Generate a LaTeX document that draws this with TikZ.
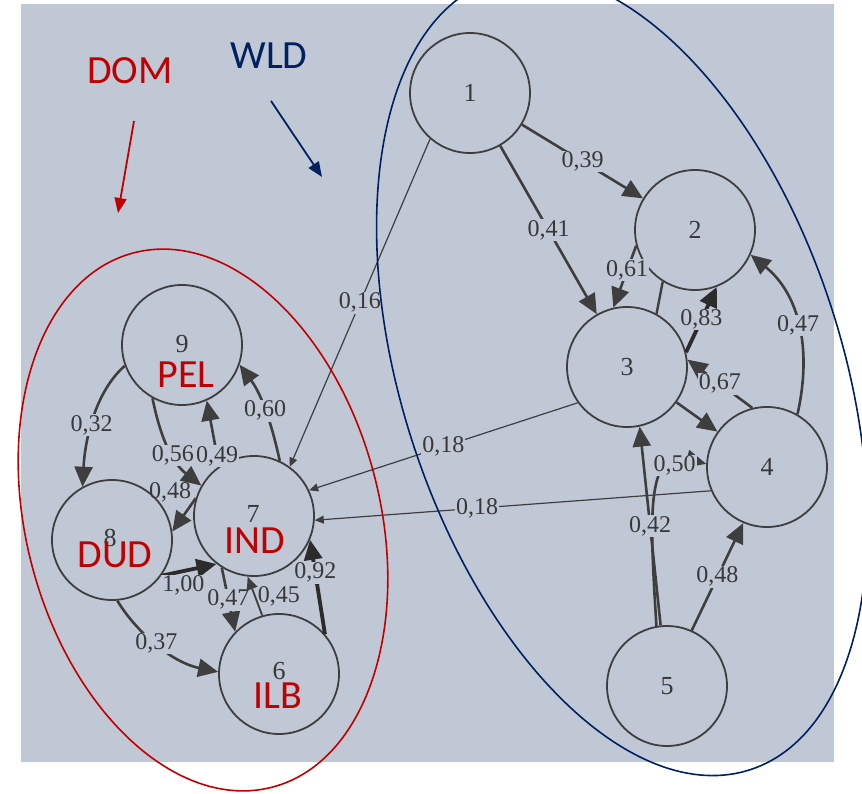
\documentclass[tikz,border=0pt]{standalone}
\usepackage{fontspec}
\setmainfont{Liberation Serif}
\newfontfamily\calib{Carlito}
\usetikzlibrary{arrows.meta}
\definecolor{bg}{RGB}{192,200,214}
\definecolor{ink}{RGB}{62,62,62}
\definecolor{redc}{RGB}{192,0,0}
\definecolor{navy}{RGB}{0,32,96}
\tikzset{
  vtx/.style={circle, draw=ink, line width=1.8pt, minimum size=120pt, inner sep=0pt,
    font=\fontsize{26}{28}\selectfont, text=ink!90!black},
  num/.style={inner sep=0pt, font=\fontsize{26}{28}\selectfont, text=ink!90!black},
  lbl/.style={fill=bg, inner sep=1pt, font=\fontsize{24}{26}\selectfont, text=ink!90!black},
  lblnf/.style={inner sep=1pt, font=\fontsize{24}{26}\selectfont, text=ink!90!black},
  tag/.style={inner sep=0pt, font=\calib\fontsize{40}{44}\selectfont},
  e/.style={draw=ink, line width=2.6pt, -{Triangle[length=20pt,width=18pt]}},
  emid/.style={draw=ink, line width=1.8pt, -{Triangle[length=13pt,width=11pt]}},
  ethin/.style={draw=ink, line width=1.2pt, -{Triangle[length=9pt,width=8pt]}},
  ethick/.style={draw=ink!70!black, line width=3.8pt, -{Triangle[length=20pt,width=18pt]}},
  plainedge/.style={draw=ink, line width=2.4pt},
  note/.style={line width=1.8pt, -{Triangle[length=15pt,width=12pt]}}
}
\begin{document}
\begin{tikzpicture}[x=1pt,y=-1pt]
\useasboundingbox (0,0) rectangle (862,794);
\clip (0,0) rectangle (862,794);
\fill[bg] (21,4) rectangle (834,762);

% nodes
\node[vtx] (n1) at (470,93) {1};
\node[vtx] (n2) at (695,230) {2};
\node[vtx] (n3) at (627,367) {3};
\node[vtx] (n4) at (767,467) {4};
\node[vtx] (n5) at (667,686) {5};
\node[vtx] (n6) at (279,674) {};
\node[vtx] (n7) at (254,516) {};
\node[vtx] (n8) at (112,540) {};
\node[vtx] (n9) at (182,345) {};
\node[num] (t9) at (182,344) {9};
\node[num] (t7) at (253,514) {7};
\node[num] (t8) at (110,538) {8};
\node[num] (t6) at (279,671) {6};

% edges, right cluster
\draw[e] (n1) -- node[lbl]{0,39} (n2);
\draw[e] (n1) -- node[lbl]{0,41} (n3);
\draw[ethin] (n1.229) -- node[lbl]{0,16} (n7.54);
\draw[e] (n2.195) .. controls (628,268) .. node[lbl]{0,61} (n3.103);
\draw[plainedge] (n3.61) -- (n2.238);
\draw[ethick] (n3.14) -- node[lbl]{0,83} (n2.-69);
\draw[e] (n4.60) .. controls (812,350) and (800,295) .. node[lbl,pos=0.5]{0,47} (n2.-24);
\draw[e] (n4.104) -- node[lbl]{0,67} (n3.7);
\draw[e] (n3) -- (n4);
\draw[e] (n5.100) .. controls (650,520) and (645,448) .. node[lbl,pos=0.78]{0,50} (n4.177);
\draw[e] (n5.96) -- node[lbl]{0,42} (n3.-78);
\draw[e] (n5.66) -- node[lbl]{0,48} (n4.-113);
\draw[ethin] (n3.216) -- node[lbl]{0,18} (n7.25);
\draw[ethin] (n4.203) -- node[lbl,pos=0.59]{0,18} (n7.-4);

% edges, left cluster
\draw[e] (n9.200) .. controls (95,392) and (85,440) .. node[lbl,pos=0.55]{0,32} (n8.119);
\draw[e] (n9.241) .. controls (162,445) and (175,465) .. node[lbl,pos=0.55]{0,56} (n7.150);
\draw[e] (n7.125) -- node[lbl,pos=0.15]{0,49} (n9.-66);
\draw[e] (n7.65) .. controls (272,425) and (262,395) .. node[lbl,pos=0.5]{0,60} (n9.-19);
\draw[e] (n7.163) -- (n8.8);
\node[lblnf] (l48) at (170,492) {0,48};
\draw[ethick] (n8.-36) -- node[lbl,below=2pt,pos=0.4]{1,00} (n7.232);
\draw[e] (n7.238) -- node[lbl]{0,47} (n6.136);
\draw[emid] (n6.106) -- node[lblnf,right=1pt]{0,45} (n7.264);
\draw[ethick] (n6.41) -- node[lbl,pos=0.65]{0,92} (n7.-23);
\draw[e] (n8.-85) .. controls (135,630) and (170,662) .. node[lbl,pos=0.5]{0,37} (n6.178);

% red tags
\node[tag, text=redc] (pel) at (186,375) {PEL};
\node[tag, text=redc] (ind) at (255,541) {IND};
\node[tag, text=redc] (dud) at (115,555) {DUD};
\node[tag, text=redc] (ilb) at (278,696) {ILB};

% group ellipses
\draw[redc, line width=1.6pt, rotate around={14.5:(203,520)}] (203,520) ellipse [x radius=177, y radius=276];
\draw[navy, line width=1.6pt, rotate around={18:(622,375)}] (622,375) ellipse [x radius=220, y radius=415];

% group captions
\node[tag, text=redc] (dom) at (130,71) {DOM};
\node[tag, text=navy] (wld) at (269,56) {WLD};
\coordinate (domA) at (134,121);
\coordinate (domB) at (118,213);
\coordinate (wldA) at (271,101);
\coordinate (wldB) at (322,177);
\draw[note, redc] (domA) -- (domB);
\draw[note, navy] (wldA) -- (wldB);
\end{tikzpicture}
\end{document}
